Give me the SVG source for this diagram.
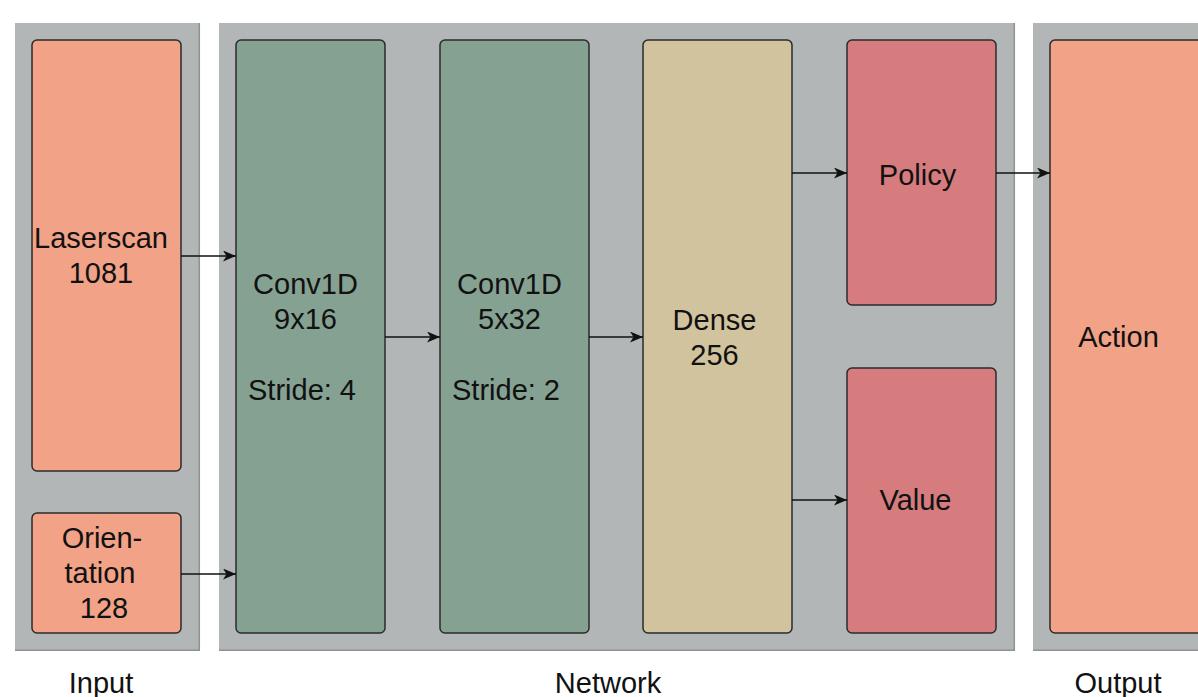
<svg xmlns="http://www.w3.org/2000/svg" width="1198" height="697" viewBox="0 0 1198 697">
  <defs>
    <marker id="arrow" viewBox="0 0 13 11" refX="13" refY="5.5" markerWidth="13" markerHeight="11" markerUnits="userSpaceOnUse" orient="auto">
      <path d="M0,0 L13,5.5 L0,11 L3.5,5.5 Z" fill="#111"/>
    </marker>
  </defs>
  <style>
    .panel { fill: #b3b6b6; }
    .edge { stroke: #8e9292; stroke-width: 1.5; fill: none; }
    .box { stroke: #2b2b2b; stroke-width: 1.5; }
    .salmon { fill: #f2a287; }
    .green { fill: #85a192; }
    .tan { fill: #d1c39d; }
    .rose { fill: #d67c7e; }
    text { font-family: "Liberation Sans", Arial, sans-serif; font-size: 29px; fill: #111; text-anchor: middle; }
    .link { stroke: #111; stroke-width: 1.5; fill: none; marker-end: url(#arrow); }
  </style>

  <rect width="1198" height="697" fill="#ffffff"/>

  <!-- stage panels -->
  <g id="panel-input">
    <rect class="panel" x="15" y="23" width="185" height="628"/>
    <path class="edge" d="M199.3,23 V650.3 H15"/>
    <text x="101" y="693">Input</text>
  </g>
  <g id="panel-network">
    <rect class="panel" x="219" y="23" width="796" height="628"/>
    <path class="edge" d="M1014.3,23 V650.3 H219"/>
    <text x="608" y="693">Network</text>
  </g>
  <g id="panel-output">
    <rect class="panel" x="1033" y="23" width="180" height="628"/>
    <path class="edge" d="M1213,650.3 H1033"/>
    <text x="1118" y="693">Output</text>
  </g>

  <!-- input nodes -->
  <g id="laserscan">
    <rect class="box salmon" x="32" y="40" width="149" height="431" rx="5"/>
    <text x="101" y="248">Laserscan</text>
    <text x="101" y="283">1081</text>
  </g>
  <g id="orientation">
    <rect class="box salmon" x="32" y="513" width="149" height="120" rx="5"/>
    <text x="102" y="548">Orien-</text>
    <text x="100" y="583">tation</text>
    <text x="104" y="618">128</text>
  </g>

  <!-- network layers -->
  <g id="conv1">
    <rect class="box green" x="236" y="40" width="149" height="593" rx="5"/>
    <text x="305.5" y="294">Conv1D</text>
    <text x="305.5" y="329">9x16</text>
    <text x="302" y="400">Stride: 4</text>
  </g>
  <g id="conv2">
    <rect class="box green" x="440" y="40" width="149" height="593" rx="5"/>
    <text x="509.5" y="294">Conv1D</text>
    <text x="509.5" y="329">5x32</text>
    <text x="506" y="400">Stride: 2</text>
  </g>
  <g id="dense">
    <rect class="box tan" x="643" y="40" width="149" height="593" rx="5"/>
    <text x="714.5" y="330">Dense</text>
    <text x="714.5" y="365">256</text>
  </g>
  <g id="policy">
    <rect class="box rose" x="847" y="40" width="149" height="265" rx="5"/>
    <text x="917.5" y="185">Policy</text>
  </g>
  <g id="value">
    <rect class="box rose" x="847" y="368" width="149" height="265" rx="5"/>
    <text x="915.5" y="510">Value</text>
  </g>

  <!-- output node -->
  <g id="action">
    <rect class="box salmon" x="1050" y="40" width="160" height="593" rx="5"/>
    <text x="1118.5" y="347">Action</text>
  </g>

  <!-- connectors -->
  <g id="connectors">
    <path class="link" d="M181,256 H236"/>
    <path class="link" d="M181,574 H236"/>
    <path class="link" d="M385,337 H440"/>
    <path class="link" d="M589,337 H643"/>
    <path class="link" d="M792,173 H847"/>
    <path class="link" d="M792,500 H847"/>
    <path class="link" d="M996,173 H1050"/>
  </g>
</svg>
